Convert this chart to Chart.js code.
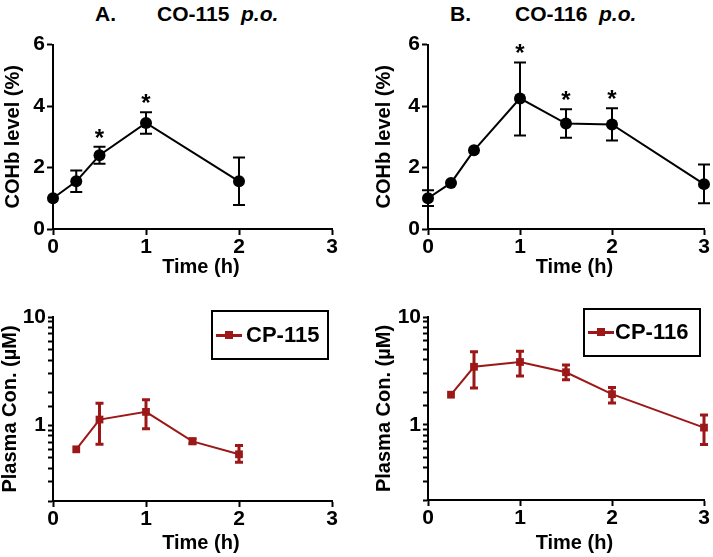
<!DOCTYPE html>
<html>
<head>
<meta charset="utf-8">
<script src="https://cdn.jsdelivr.net/npm/chart.js@4/dist/chart.umd.min.js"></script>
<style>
    body { margin: 0; width: 713px; height: 557px; overflow: hidden; background: #fff; position: relative;
           font-family: "Liberation Sans", Arial, sans-serif; }
    canvas { position: absolute; }
    .ttl { position: absolute; top: 2px; font-size: 21px; font-weight: bold; white-space: pre; line-height: 24px; }
    .ttl i { font-style: italic; }
    .lgd { position: absolute; border: 2px solid #000; box-sizing: border-box; font-size: 22px; font-weight: bold;
           line-height: 22px; }
    .lgd .ln { position: absolute; height: 3px; background: #9c1818; }
    .lgd .sq { position: absolute; width: 8px; height: 8px; background: #9c1818; }
    .lgd span { position: absolute; }
</style>
</head>
<body>
<div class="ttl" style="left:95px">A.</div>
<div class="ttl" style="left:157px">CO-115  <i>p.o.</i></div>
<div class="ttl" style="left:450px">B.</div>
<div class="ttl" style="left:515px">CO-116  <i>p.o.</i></div>

<canvas id="chartA" width="349" height="249" style="left:1px;top:30px"></canvas>
<canvas id="chartB" width="350" height="249" style="left:372px;top:30px"></canvas>
<canvas id="chartC" width="352" height="255" style="left:-2px;top:300px"></canvas>
<canvas id="chartD" width="350" height="255" style="left:372px;top:300px"></canvas>

<div class="lgd" style="left:211px;top:310px;width:118px;height:50px">
    <div class="ln" style="left:3px;top:22px;width:26px"></div>
    <div class="sq" style="left:12px;top:19px"></div>
    <span style="left:33px;top:12px">CP-115</span>
</div>
<div class="lgd" style="left:583px;top:308px;width:118px;height:49px">
    <div class="ln" style="left:3px;top:21px;width:26px"></div>
    <div class="sq" style="left:12px;top:18px"></div>
    <span style="left:30px;top:11px">CP-116</span>
</div>

<script>
// A. CO-115 p.o. - COHb level (%)
const timeA = [0, 0.25, 0.5, 1, 2];
const cohbA = [1.0, 1.55, 2.4, 3.45, 1.55];
const cohbALo = [1.0, 1.2, 2.12, 3.1, 0.78];
const cohbAHi = [1.0, 1.9, 2.68, 3.8, 2.33];
const starsA = [0.5, 1];

// B. CO-116 p.o. - COHb level (%)
const timeB = [0, 0.25, 0.5, 1, 1.5, 2, 3];
const cohbB = [1.0, 1.5, 2.56, 4.25, 3.43, 3.4, 1.46];
const cohbBLo = [0.75, 1.5, 2.56, 3.04, 2.97, 2.88, 0.84];
const cohbBHi = [1.26, 1.5, 2.56, 5.42, 3.9, 3.93, 2.1];
const starsB = [1, 1.5, 2];

// CP-115 plasma concentration (uM)
const timeC = [0.25, 0.5, 1, 1.5, 2];
const cpC = [0.6, 1.13, 1.33, 0.71, 0.54];
const cpCLo = [0.6, 0.67, 0.93, 0.68, 0.455];
const cpCHi = [0.6, 1.6, 1.72, 0.75, 0.65];

// CP-116 plasma concentration (uM)
const timeD = [0.25, 0.5, 1, 1.5, 2, 3];
const cpD = [1.9, 3.45, 3.82, 3.07, 1.92, 0.94];
const cpDLo = [1.9, 2.19, 2.84, 2.61, 1.59, 0.655];
const cpDHi = [1.9, 4.76, 4.8, 3.59, 2.22, 1.23];

const xTicks = [0, 1, 2, 3];
const cohbTicks = [0, 2, 4, 6];
const logLabels = [1, 10];

const RED = '#9c1818';
const FAMILY = '"Liberation Sans", Arial, sans-serif';
const TICK_FONT = { family: FAMILY, weight: 'bold', size: 21 };
const TITLE_FONT = { family: FAMILY, weight: 'bold', size: 20 };

// error bars + significance stars, placed with the chart's own scales
const errorBars = {
    id: 'errorBars',
    beforeDatasetsDraw(chart) {
        const ctx = chart.ctx;
        const yScale = chart.scales.y;
        chart.data.datasets.forEach((ds, i) => {
            const meta = chart.getDatasetMeta(i);
            ctx.save();
            ctx.strokeStyle = ds.borderColor;
            ctx.lineWidth = ds.errWidth;
            meta.data.forEach((pt, j) => {
                const top = yScale.getPixelForValue(ds.errHi[j]);
                const bot = yScale.getPixelForValue(ds.errLo[j]);
                if (Math.abs(bot - top) < 1) return;
                const c = ds.capHalf;
                ctx.beginPath();
                ctx.moveTo(pt.x, top); ctx.lineTo(pt.x, bot);
                ctx.moveTo(pt.x - c, top); ctx.lineTo(pt.x + c, top);
                ctx.moveTo(pt.x - c, bot); ctx.lineTo(pt.x + c, bot);
                ctx.stroke();
            });
            ctx.restore();
        });
    },
    afterDatasetsDraw(chart) {
        const ds = chart.data.datasets[0];
        if (!ds.stars) return;
        const ctx = chart.ctx;
        const meta = chart.getDatasetMeta(0);
        ctx.save();
        ctx.fillStyle = '#000';
        ctx.font = 'bold 24px ' + FAMILY;
        ctx.textAlign = 'center';
        ctx.textBaseline = 'alphabetic';
        ds.stars.forEach(t => {
            const j = ds.data.findIndex(p => p.x === t);
            if (j < 0) return;
            const top = chart.scales.y.getPixelForValue(ds.errHi[j]);
            ctx.fillText('*', meta.data[j].x, top - 1);
        });
        ctx.restore();
    }
};

function xAxis(height) {
    return {
        type: 'linear', min: 0, max: 3,
        afterBuildTicks: s => { s.ticks = xTicks.map(v => ({ value: v })); },
        ticks: { color: '#000', font: TICK_FONT, padding: 0, maxRotation: 0 },
        grid: { drawOnChartArea: false, drawTicks: true, tickLength: 6, tickWidth: 2, color: '#000' },
        border: { display: true, color: '#000', width: 2 },
        // leading spaces nudge the title right, as in the original figure
        title: { display: true, text: '   Time (h)', color: '#000', font: TITLE_FONT, padding: 0 },
        afterFit: s => { s.height = height; }
    };
}

function yAxis(width, title, log) {
    const axis = {
        ticks: { color: '#000', font: TICK_FONT, padding: 2, autoSkip: false },
        grid: { drawOnChartArea: false, drawTicks: true, tickLength: 6, tickWidth: 2, color: '#000' },
        border: { display: true, color: '#000', width: 2 },
        title: { display: true, text: title, color: '#000', font: TITLE_FONT, padding: 0 },
        afterFit: s => { s.width = width; }
    };
    if (log) {
        axis.type = 'logarithmic';
        axis.min = 0.2;
        axis.max = 10;
        axis.ticks.callback = v => logLabels.some(l => Math.abs(l - v) < 1e-9) ? String(v) : '';
        axis.grid.tickLength = 5;
    } else {
        axis.type = 'linear';
        axis.min = 0;
        axis.max = 6;
        axis.afterBuildTicks = s => { s.ticks = cohbTicks.map(v => ({ value: v })); };
    }
    return axis;
}

function makeChart(id, cfg) {
    const pts = cfg.time.map((t, i) => ({ x: t, y: cfg.vals[i] }));
    return new Chart(document.getElementById(id), {
        type: 'line',
        data: {
            datasets: [{
                data: pts,
                errLo: cfg.lo, errHi: cfg.hi, stars: cfg.stars,
                borderColor: cfg.color, backgroundColor: cfg.color,
                borderWidth: 2, tension: 0,
                pointStyle: cfg.log ? 'rect' : 'circle',
                pointRadius: cfg.log ? 5.5 : 6,
                pointBorderWidth: 0,
                errWidth: cfg.log ? 3 : 2,
                capHalf: cfg.log ? 4 : 6,
                clip: false
            }]
        },
        options: {
            responsive: false, animation: false, devicePixelRatio: 1,
            layout: { padding: { top: cfg.padTop, right: cfg.padRight, left: 0, bottom: 0 } },
            plugins: { legend: { display: false }, tooltip: { enabled: false } },
            scales: {
                x: xAxis(cfg.xh),
                y: yAxis(cfg.yw, cfg.title, cfg.log)
            }
        },
        plugins: [errorBars]
    });
}

makeChart('chartA', { time: timeA, vals: cohbA, lo: cohbALo, hi: cohbAHi, stars: starsA, color: '#000',
    title: 'COHb level (%)', log: false, padTop: 14, padRight: 18, xh: 50, yw: 52 });
makeChart('chartB', { time: timeB, vals: cohbB, lo: cohbBLo, hi: cohbBHi, stars: starsB, color: '#000',
    title: 'COHb level (%)', log: false, padTop: 14, padRight: 18, xh: 50, yw: 56 });
makeChart('chartC', { time: timeC, vals: cpC, lo: cpCLo, hi: cpCHi, stars: null, color: RED,
    title: 'Plasma Con. (µM)', log: true, padTop: 17, padRight: 18, xh: 54, yw: 55 });
makeChart('chartD', { time: timeD, vals: cpD, lo: cpDLo, hi: cpDHi, stars: null, color: RED,
    title: 'Plasma Con. (µM)', log: true, padTop: 17, padRight: 18, xh: 55, yw: 56 });
</script>
</body>
</html>
